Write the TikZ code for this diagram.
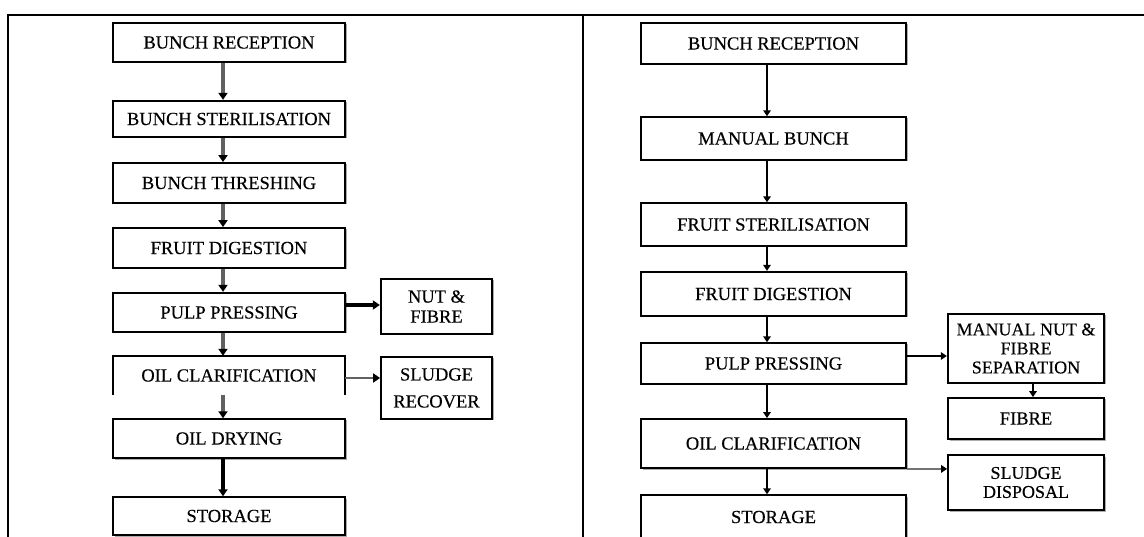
\documentclass[tikz,border=0pt]{standalone}
\usepackage{fontspec}
\setmainfont{Liberation Serif}
\newfontfamily\dfont[FakeBold=0.3]{Liberation Serif}
\usetikzlibrary{arrows.meta,shadows}
\begin{document}
\begin{tikzpicture}[x=1pt,y=-1pt,
  font=\dfont\fontsize{18.5}{20}\selectfont,
  box/.style={draw=black, fill=white, line width=1.4pt, inner sep=0pt, align=center,
    drop shadow={shadow xshift=1.5pt, shadow yshift=-1.5pt, fill=black!40, opacity=0.8}},
  lbox/.style={box, minimum width=232pt},
  rbox/.style={box, minimum width=265pt},
  sbox/.style={box, minimum width=156pt},
  heavy/.style={line width=2.3pt},
  mid/.style={line width=1.8pt},
  arrL/.style={draw=black!62, line width=3.2pt, -{Triangle[length=7pt,width=9pt,color=black]}},
  arrLk/.style={draw=black, line width=3.2pt, -{Triangle[length=7pt,width=9pt]}},
  arrR/.style={draw=black, line width=2.2pt, -{Triangle[length=6pt,width=7.5pt]}},
  frame/.style={line width=2.5pt}]
\useasboundingbox (0,0) rectangle (1144,537);
\fill[white] (0,0) rectangle (1144,537);
% frame
\coordinate (fl) at (8,537);
\coordinate (ftl) at (8,15);
\coordinate (ftr) at (1144,15);
\coordinate (fmt) at (583,15);
\coordinate (fmb) at (583,537);
\draw[frame] (fl) -- (ftl) -- (ftr);
\draw[frame] (fmt) -- (fmb);
% left column
\node[lbox, minimum height=39pt] (l1) at (229,42.5) {BUNCH RECEPTION};
\node[lbox, heavy, minimum height=36pt] (l2) at (229,119) {BUNCH STERILISATION};
\node[lbox, mid, minimum height=40pt] (l3) at (229,183) {BUNCH THRESHING};
\node[lbox, mid, minimum height=40pt] (l4) at (229,248) {FRUIT DIGESTION};
\node[lbox, heavy, minimum height=39pt] (l5) at (229,312.5) {PULP PRESSING};
\node[inner sep=0pt, minimum width=232pt, minimum height=39pt] (l6) at (229,375.5) {OIL CLARIFICATION};
\draw[heavy] (l6.south west) -- (l6.north west) -- (l6.north east) -- (l6.south east);
\node[lbox, minimum height=39pt] (l7) at (229,438.5) {OIL DRYING};
\node[lbox, minimum height=38pt] (l8) at (229,516) {STORAGE};
\node[box, heavy, minimum width=111pt, minimum height=55pt,
  font=\dfont\fontsize{18.5}{20}\selectfont] (ln) at (436.5,306.5) {NUT \&\\FIBRE};
\node[box, mid, minimum width=111pt, minimum height=62pt,
  font=\dfont\fontsize{18.5}{27}\selectfont] (ls) at (436.5,388) {SLUDGE\\RECOVER};
\foreach \a/\b in {l1/l2,l2/l3,l3/l4,l4/l5,l5/l6,l6/l7}
  \draw[arrL] ([xshift=-6pt]\a.south) -- ([xshift=-6pt]\b.north);
\draw[arrLk] ([xshift=-6pt]l7.south) -- ([xshift=-6pt]l8.north);
\draw[arrLk] ([yshift=7.5pt]l5.east) -- ([yshift=7.5pt]l5.east -| ln.west);
\draw[draw=black!62, line width=2pt, -{Triangle[length=7pt,width=9pt,color=black]}]
  ([yshift=-2.5pt]l6.east) -- ([yshift=-2.5pt]l6.east -| ls.west);
% right column
\node[rbox, minimum height=41pt] (r1) at (773.5,43.5) {BUNCH RECEPTION};
\node[rbox, minimum height=43pt] (r2) at (773.5,138.5) {MANUAL BUNCH};
\node[rbox, minimum height=43pt] (r3) at (773.5,224.5) {FRUIT STERILISATION};
\node[rbox, heavy, minimum height=44pt] (r4) at (773.5,294) {FRUIT DIGESTION};
\node[rbox, minimum height=41pt] (r5) at (773.5,363.5) {PULP PRESSING};
\node[rbox, mid, minimum height=49pt] (r6) at (773.5,443.5) {OIL CLARIFICATION};
\node[rbox, minimum height=44pt] (r7) at (773.5,517) {STORAGE};
\node[sbox, heavy, minimum height=69pt, font=\dfont\fontsize{18}{19}\selectfont] (rm) at (1026,348.5)
  {MANUAL NUT \&\\FIBRE\\SEPARATION};
\node[sbox, mid, minimum height=41pt] (rf) at (1026,418.5) {FIBRE};
\node[sbox, mid, minimum height=55pt, font=\dfont\fontsize{18}{19}\selectfont] (rs) at (1026,482.5)
  {SLUDGE\\DISPOSAL};
\foreach \a/\b in {r1/r2,r2/r3,r3/r4,r4/r5,r5/r6,r6/r7}
  \draw[arrR] ([xshift=-6.5pt]\a.south) -- ([xshift=-6.5pt]\b.north);
\draw[arrR] ([yshift=7.5pt]r5.east) -- ([yshift=7.5pt]r5.east -| rm.west);
\draw[arrR] ([xshift=7pt]rm.south) -- ([xshift=7pt]rf.north);
\draw[draw=black!55, line width=2.8pt, -{Triangle[length=6pt,width=7.5pt,color=black]}]
  (r6.south east) -- (r6.south east -| rs.west);
\end{tikzpicture}
\end{document}
